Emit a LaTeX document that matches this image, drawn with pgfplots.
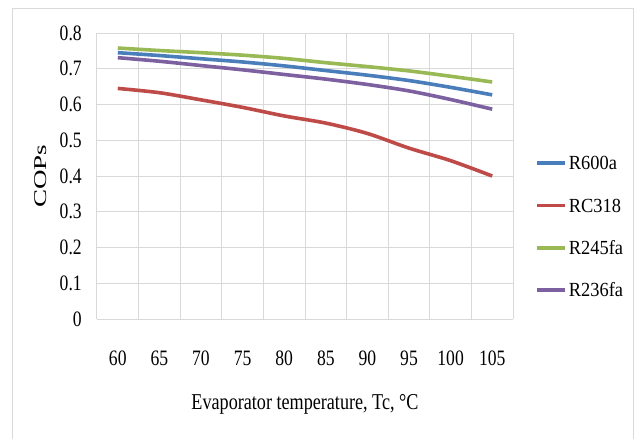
\documentclass[border=0pt]{standalone}
\usepackage{pgfplots}
\pgfplotsset{compat=1.18}
\usepackage{fontspec}
\setmainfont{Liberation Serif}
\newfontfamily\tickfont{Liberation Serif}[FakeStretch=0.8]
\newfontfamily\legfont{Liberation Serif}[FakeStretch=0.92]
\newfontfamily\plainserif{Liberation Serif}
\definecolor{cblue}{HTML}{4A7EBB}
\definecolor{cred}{HTML}{BE4B48}
\definecolor{cgreen}{HTML}{98B954}
\definecolor{cpurple}{HTML}{7D60A0}
\definecolor{gridc}{HTML}{D9D9D9}
\begin{document}
\begin{tikzpicture}
\useasboundingbox (0,0) rectangle (476.25pt,329.25pt);
\draw[gridc, line width=0.75pt] (9.5pt,0) -- (9.5pt,322.5pt) -- (474.75pt,322.5pt) -- (474.75pt,0);
\begin{axis}[
  at={(72.75pt,90pt)}, anchor=south west,
  scale only axis, width=312pt, height=214.5pt,
  xmin=-0.5, xmax=9.5, ymin=0, ymax=0.8,
  xtick={0,...,9},
  xticklabels={60,65,70,75,80,85,90,95,100,105},
  minor xtick={-0.5,0.5,...,9.5},
  ytick={0,0.1,...,0.8},
  yticklabels={0,0.1,0.2,0.3,0.4,0.5,0.6,0.7,0.8},
  major tick length=0pt, minor tick length=0pt,
  ymajorgrids, xminorgrids,
  grid style={gridc, line width=0.75pt},
  axis line style={gridc, line width=0.75pt},
  axis x line*=bottom, axis y line*=left,
  separate axis lines,
  x axis line style={-}, y axis line style={-},
  xticklabel style={font=\fontsize{16.5pt}{18pt}\tickfont, inner sep=0pt, anchor=north, yshift=-24pt},
  yticklabel style={font=\fontsize{16.5pt}{18pt}\tickfont, inner sep=0pt, anchor=east, xshift=-11.25pt},
  xlabel={Evaporator temperature, Tc, \textdegree C},
  xlabel style={font=\fontsize{17pt}{19pt}\tickfont, inner sep=0pt, at={(axis description cs:0.5,0)}, anchor=north, yshift=-56.25pt},
  ylabel={\scalebox{1.5}[1]{\fontsize{13.5pt}{15pt}\plainserif COPs}},
  ylabel style={inner sep=0pt, at={(axis description cs:-0.1202,0.5)}, rotate=0, anchor=south},
  legend style={at={(1.053,0.569)}, anchor=north west, draw=none, fill=none, inner sep=0pt,
    font=\fontsize{15pt}{17pt}\legfont,
    nodes={inner sep=0pt, text height=10pt, text depth=0pt},
    row sep=21.7pt, column sep=1.5pt},
  legend cell align=left,
  legend image code/.code={\draw[#1, line width=2.7pt] (0pt,0pt) -- (21pt,0pt);},
  every axis plot/.append style={line width=2.7pt, smooth, no markers},
]
\addplot[cblue] coordinates {(0,0.745)(1,0.737)(2,0.728)(3,0.719)(4,0.708)(5,0.695)(6,0.682)(7,0.667)(8,0.648)(9,0.627)};
\addlegendentry{R600a}
\addplot[cred] coordinates {(0,0.645)(1,0.633)(2,0.613)(3,0.592)(4,0.568)(5,0.548)(6,0.519)(7,0.478)(8,0.443)(9,0.400)};
\addlegendentry{RC318}
\addplot[cgreen] coordinates {(0,0.758)(1,0.751)(2,0.745)(3,0.738)(4,0.729)(5,0.717)(6,0.706)(7,0.694)(8,0.679)(9,0.663)};
\addlegendentry{R245fa}
\addplot[cpurple] coordinates {(0,0.731)(1,0.721)(2,0.709)(3,0.697)(4,0.684)(5,0.671)(6,0.656)(7,0.638)(8,0.614)(9,0.587)};
\addlegendentry{R236fa}
\end{axis}
\end{tikzpicture}
\end{document}
